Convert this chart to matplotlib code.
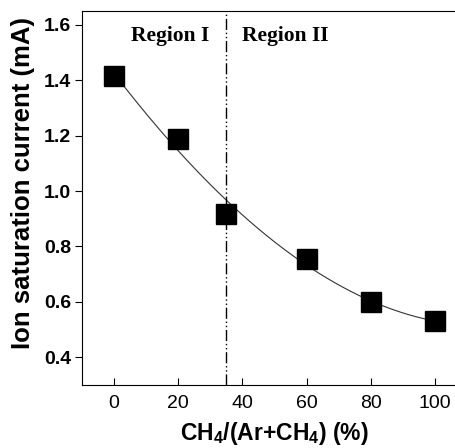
import numpy as np
import matplotlib.pyplot as plt

plt.rcParams['mathtext.fontset'] = 'custom'
plt.rcParams['mathtext.rm'] = 'Liberation Sans'
plt.rcParams['mathtext.bf'] = 'Liberation Sans:bold'

# data
ch4_pct = [0, 20, 35, 60, 80, 100]
ion_current = [1.415, 1.188, 0.917, 0.754, 0.600, 0.530]
x_ticks = [0, 20, 40, 60, 80, 100]
y_ticks = [0.4, 0.6, 0.8, 1.0, 1.2, 1.4, 1.6]
boundary = 35

fig = plt.figure(figsize=(4.56, 4.48), dpi=100)
# axes runs past the right edge of the picture, like the scanned figure
ax = fig.add_axes([82/456, 63/448, 385/456, 374/448])

# smooth guide curve fitted through the points
coef = np.polyfit(ch4_pct, ion_current, 3)
xs = np.linspace(0, 100, 200)
ax.plot(xs, np.polyval(coef, xs), color='#333333', lw=0.8)
ax.plot(ch4_pct, ion_current, 's', color='black', markersize=14)

ax.axvline(boundary, color='black', lw=1.0, linestyle=(0, (8, 2, 1, 2, 1, 2)))

ax.text(17.6, 1.56, 'Region I', family='Liberation Serif', weight='bold',
        fontsize=15.5, ha='center', va='center')
ax.text(53.4, 1.56, 'Region II', family='Liberation Serif', weight='bold',
        fontsize=15.5, ha='center', va='center')

ax.set_xlim(-10, 110)
ax.set_ylim(0.3, 1.65)
ax.set_xticks(x_ticks)
ax.set_yticks(y_ticks)
ax.set_xticklabels([str(v) for v in x_ticks], family='Liberation Sans', fontsize=14)
ax.set_yticklabels(['%.1f' % v for v in y_ticks], family='Liberation Sans',
                   fontsize=14, weight='bold')
ax.tick_params(axis='x', direction='in', length=5, pad=7)
ax.tick_params(axis='y', direction='out', length=5, pad=3)

ax.set_ylabel('Ion saturation current (mA)', family='Liberation Sans',
              weight='bold', fontsize=18.5)
ax.yaxis.set_label_coords(-0.122, 0.54)
ax.set_xlabel(r'CH$_\mathbf{4}$/(Ar+CH$_\mathbf{4}$) (%)', family='Liberation Sans',
              weight='bold', fontsize=16.5, labelpad=6)

plt.savefig('out.png', dpi=100)
